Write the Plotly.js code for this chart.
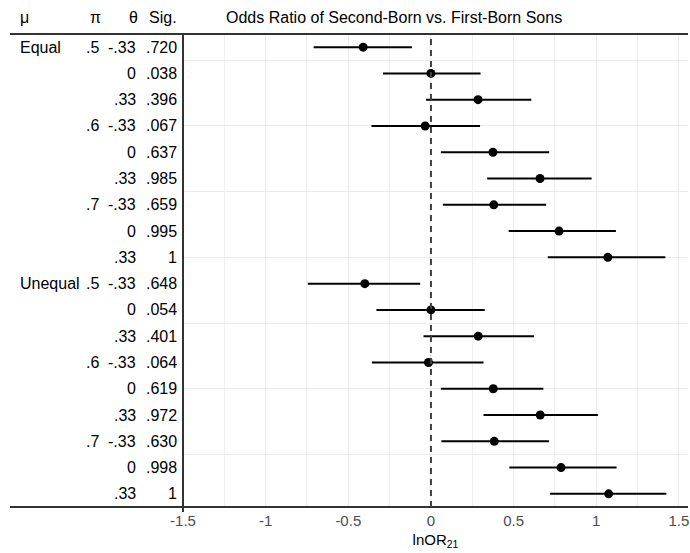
<!DOCTYPE html>
<html>
<head>
<meta charset="utf-8">
<script src="https://cdn.plot.ly/plotly-3.0.1.min.js"></script>
<style>html,body{margin:0;padding:0;background:#fff;}#chart{width:690px;height:553px;}</style>
</head>
<body>
<div id="chart"></div>
<script>
// ---- data ----
const muLabels = ["Equal","","","","","","","","","Unequal","","","","","","","",""];
const piLabels = [".5","","",".6","","",".7","","",".5","","",".6","","",".7","",""];
const thetaLabels = ["-.33","0",".33","-.33","0",".33","-.33","0",".33","-.33","0",".33","-.33","0",".33","-.33","0",".33"];
const sigLabels = [".720",".038",".396",".067",".637",".985",".659",".995","1",".648",".054",".401",".064",".619",".972",".630",".998","1"];
const estimate = [-0.41, 0.00, 0.285, -0.035, 0.375, 0.66, 0.38, 0.775, 1.07, -0.40, 0.00, 0.286, -0.015, 0.377, 0.661, 0.383, 0.787, 1.075];
const lower    = [-0.71, -0.29, -0.03, -0.36, 0.06, 0.34, 0.072, 0.47, 0.707, -0.745, -0.33, -0.045, -0.357, 0.06, 0.318, 0.063, 0.474, 0.72];
const upper    = [-0.115, 0.30, 0.607, 0.297, 0.715, 0.972, 0.697, 1.119, 1.418, -0.065, 0.325, 0.623, 0.318, 0.68, 1.01, 0.714, 1.123, 1.424];
const xTickVals = [-1.5,-1,-0.5,0,0.5,1,1.5];
const xTickText = ["-1.5","-1","-0.5","0","0.5","1","1.5"];
const headers = {mu:"μ", pi:"π", theta:"θ", sig:"Sig.", title:"Odds Ratio of Second-Born vs. First-Born Sons"};

// ---- layout helpers ----
const W = 690, H = 553;
const M = {l:183, r:2, t:34, b:46};
const plotW = W - M.l - M.r, plotH = H - M.t - M.b;
const px = p => (p - M.l) / plotW;          // pixel x -> paper x
const py = p => 1 - (p - M.t) / plotH;      // pixel y -> paper y
const n = estimate.length;
const rowY = estimate.map((_, i) => n - i);

const FONT = '"Liberation Sans", Arial, sans-serif';
const textFont = {family: FONT, size: 16, color: '#000'};

const trace = {
  type: 'scatter', mode: 'markers',
  x: estimate, y: rowY,
  marker: {color: '#000', size: 9},
  error_x: {
    type: 'data', symmetric: false,
    array: estimate.map((e, i) => upper[i] - e),
    arrayminus: estimate.map((e, i) => e - lower[i]),
    color: '#000', thickness: 2, width: 0
  },
  hoverinfo: 'skip', showlegend: false
};

const annotations = [];
function addText(text, xPix, anchor, yVal, yref) {
  annotations.push({text: text, xref: 'paper', x: px(xPix), xanchor: anchor,
    yref: yref, y: yVal, yanchor: 'middle', showarrow: false, font: textFont});
}
rowY.forEach((y, i) => {
  if (muLabels[i]) addText(muLabels[i], 18, 'left', y, 'y');
  if (piLabels[i]) addText(piLabels[i], 101, 'right', y, 'y');
  if (thetaLabels[i]) addText(thetaLabels[i], 138, 'right', y, 'y');
  if (sigLabels[i]) addText(sigLabels[i], 179, 'right', y, 'y');
});
const hy = py(17);
addText(headers.mu, 18, 'left', hy, 'paper');
addText(headers.pi, 103, 'right', hy, 'paper');
addText(headers.theta, 140, 'right', hy, 'paper');
addText(headers.sig, 179, 'right', hy, 'paper');
addText(headers.title, 224, 'left', hy, 'paper');

const dark = '#333333';
const shapes = [
  {type:'line', xref:'paper', yref:'paper', x0: px(10), x1: 1, y0: 1, y1: 1, line:{color: dark, width: 2}},
  {type:'line', xref:'paper', yref:'paper', x0: px(10), x1: 1, y0: 0, y1: 0, line:{color: dark, width: 2}},
  {type:'line', xref:'paper', yref:'paper', x0: 0, x1: 0, y0: py(512), y1: 1, line:{color: dark, width: 2}},
  {type:'line', xref:'x', yref:'paper', x0: 0, x1: 0, y0: 0, y1: 1, line:{color: '#404040', width: 2, dash: '6px,5px'}}
];

const layout = {
  width: W, height: H,
  margin: M,
  paper_bgcolor: '#fff', plot_bgcolor: '#fff',
  showlegend: false,
  xaxis: {
    range: [-1.5, 1.555],
    tickmode: 'array', tickvals: xTickVals, ticktext: xTickText,
    tickfont: {family: FONT, size: 15, color: '#4d4d4d'},
    ticklabelstandoff: 3,
    showgrid: true, gridcolor: '#ebebeb', gridwidth: 1,
    minor: {tickmode: 'array', tickvals: [-1.25,-0.75,-0.25,0.25,0.75,1.25], showgrid: true, gridcolor: '#f0f0f0', gridwidth: 1},
    zeroline: false, showline: false, ticks: '',
    title: {text: 'lnOR<sub>21</sub>', font: {family: FONT, size: 15, color: '#000'}, standoff: 6}
  },
  yaxis: {
    range: [0.5, n + 0.5],
    tickmode: 'array', tickvals: [2.5,5,7.5,10,12.5,15,17.5],
    showticklabels: false, ticks: '',
    showgrid: true, gridcolor: '#ebebeb', gridwidth: 1,
    zeroline: false, showline: false
  },
  shapes: shapes,
  annotations: annotations
};

Plotly.newPlot('chart', [trace], layout, {displayModeBar: false, staticPlot: true});
</script>
</body>
</html>
